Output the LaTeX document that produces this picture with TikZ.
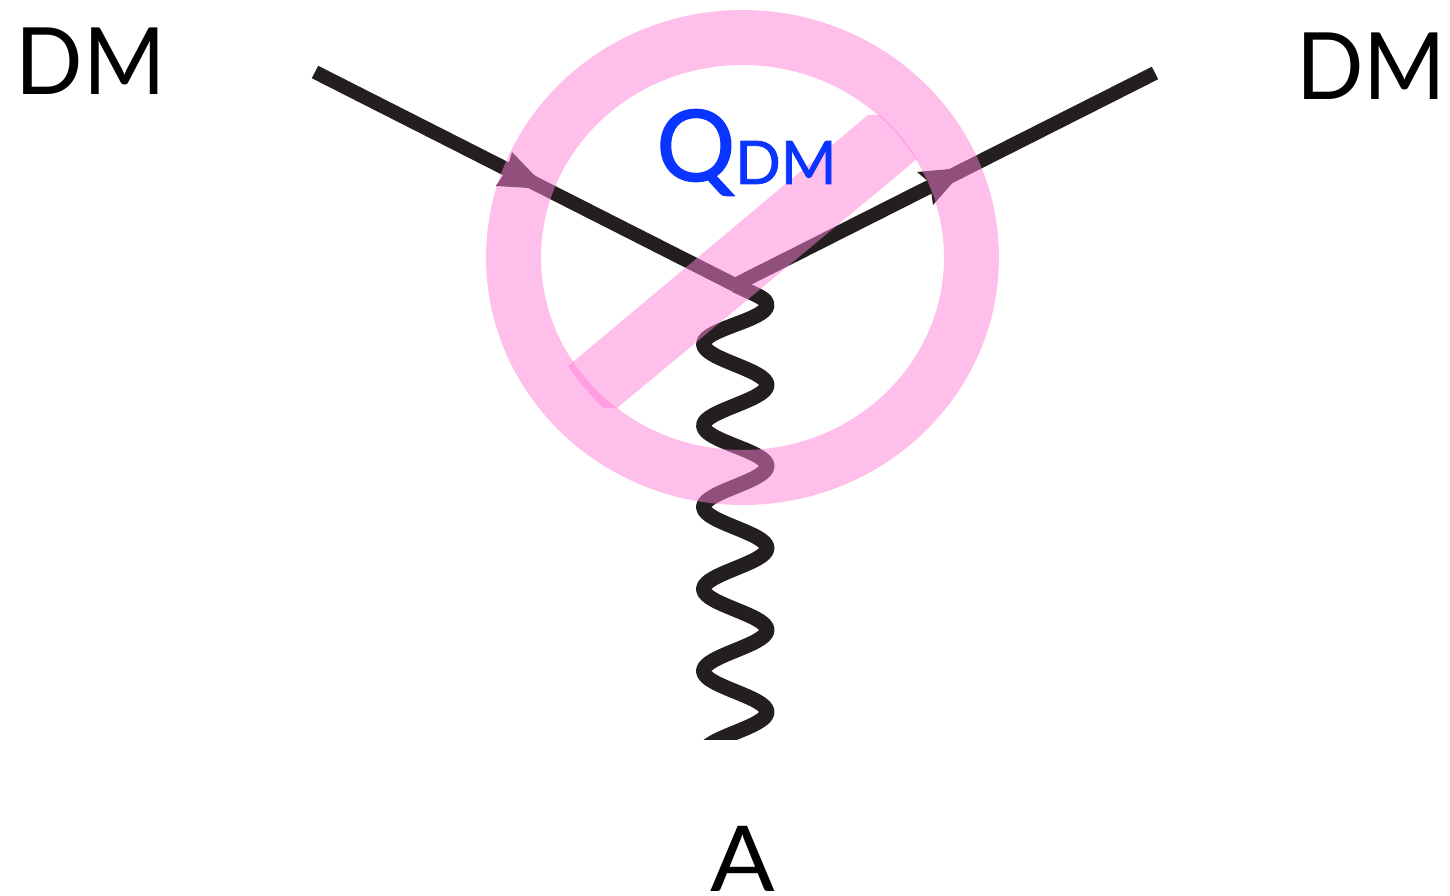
\documentclass[tikz,border=0pt]{standalone}
\usepackage{fontspec}
\setmainfont[FakeStretch=0.955]{Lato}
\newfontfamily\qfont[FakeBold=1.2]{Lato}
\newfontfamily\afont[FakeStretch=1.05]{Lato}
\definecolor{lineblack}{RGB}{35,31,32}
\definecolor{ringpink}{RGB}{255,129,217}
\definecolor{qblue}{RGB}{10,52,255}
\tikzset{
  x=1pt,y=-1pt,
  fermion/.style={draw=lineblack,line width=14pt,line cap=butt},
  headfill/.style={fill=lineblack,draw=none},
  boson/.style={draw=lineblack,line width=15pt,line join=round},
  ring/.style={draw=ringpink,line width=55pt,opacity=.5},
  slash/.style={fill=ringpink,opacity=.5,draw=none},
  lab/.style={inner sep=0pt,outer sep=0pt,anchor=base west,font=\fontsize{93}{93}\selectfont,text=black},
}
\begin{document}
\begin{tikzpicture}
\useasboundingbox (0,0) rectangle (1450,896);
\fill[white] (0,0) rectangle (1450,896);
\coordinate (inL) at (315,72);
\coordinate (inR) at (1155,73);
\coordinate (v) at (735,285);
% fermion lines
\draw[fermion] (inL) -- (v);
\draw[fermion] (inR) -- (v);
% arrowheads
\fill[headfill] (512,152) -- (535,176) -- (545,192) -- (529,188) -- (496,186) -- (507,169) -- cycle;
\fill[headfill] (917,172) -- (950,169) -- (962,178) -- (955,180) -- (933,205) -- (930,183) -- cycle;
% photon
\begin{scope}
\clip (600,270) rectangle (850,739);
\draw[boson] (v) -- (750,292) .. controls (761,297) and (767,300) .. (767,305)
  .. controls (767,320) and (703.5,329) .. (703.5,344)
  .. controls (703.5,359) and (767,370) .. (767,385)
  .. controls (767,400) and (703.5,411) .. (703.5,425.5)
  .. controls (703.5,441) and (767,451) .. (767,466)
  .. controls (767,481) and (703.5,492) .. (703.5,507)
  .. controls (703.5,522) and (767,533) .. (767,548)
  .. controls (767,563) and (703.5,574) .. (703.5,589)
  .. controls (703.5,604) and (767,615) .. (767,630)
  .. controls (767,645) and (703.5,656) .. (703.5,671)
  .. controls (703.5,686) and (767,697) .. (767,712)
  .. controls (767,727) and (703.5,738) .. (703.5,753);
\end{scope}
% forbidden sign
\draw[ring] (742.5,257.5) ellipse [x radius=229,y radius=220];
\fill[slash] (868,115) -- (880,115) .. controls (895,128) and (907,143) .. (917,159)
  -- (617,408) -- (603,408) .. controls (590,395) and (578,381) .. (568,366) -- cycle;
% labels
\node[lab] (dml) at (15.5,95) {DM};
\node[lab] (dmr) at (1296,100) {DM};
\node[lab,font=\afont\fontsize{91}{91}\selectfont] (a) at (710,891) {A};
\node[inner sep=0pt,anchor=base west,font=\qfont\fontsize{99}{99}\selectfont,text=qblue] (q) at (656,181) {Q};
\node[inner sep=0pt,anchor=base west,font=\qfont\fontsize{60}{60}\selectfont,text=qblue] (dms) at (735,184) {DM};
\end{tikzpicture}
\end{document}
